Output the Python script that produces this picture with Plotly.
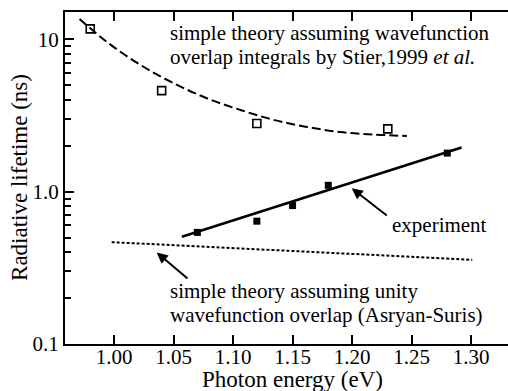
import plotly.graph_objects as go

# Open squares: simple theory with wavefunction overlap integrals (Stier 1999)
stier_x = [0.980, 1.040, 1.120, 1.230]
stier_y = [11.7, 4.6, 2.8, 2.58]
# Dashed guide curve through the Stier points
stier_curve_x = [0.971, 0.994, 1.022, 1.050, 1.078, 1.106, 1.134, 1.162, 1.190, 1.218, 1.246]
stier_curve_y = [13.6, 9.6, 6.8, 5.15, 4.1, 3.44, 2.96, 2.66, 2.46, 2.37, 2.32]
# Filled squares: experiment
exp_x = [1.07, 1.12, 1.15, 1.18, 1.28]
exp_y = [0.54, 0.64, 0.81, 1.10, 1.79]
# Solid fit line through experiment
fit_x = [1.057, 1.292]
fit_y = [0.505, 1.95]
# Dotted: unity overlap theory (Asryan-Suris)
unity_x = [0.998, 1.301]
unity_y = [0.466, 0.357]

x_ticks = [1.00, 1.05, 1.10, 1.15, 1.20, 1.25, 1.30]
x_tick_labels = ["1.00", "1.05", "1.10", "1.15", "1.20", "1.25", "1.30"]
y_ticks = [0.1, 1, 10]
y_tick_labels = ["0.1", "1.0", "10"]
y_minor = [m * d for d in (0.1, 1) for m in range(2, 10)] + [20]

FONT = "'Liberation Serif', 'Times New Roman', 'DejaVu Serif', serif"

fig = go.Figure()
fig.add_trace(go.Scatter(x=stier_curve_x, y=stier_curve_y, mode="lines",
                         line=dict(color="black", width=2, dash="9px,4px", shape="spline"),
                         showlegend=False))
fig.add_trace(go.Scatter(x=stier_x, y=stier_y, mode="markers",
                         marker=dict(symbol="square-open", size=8, color="black",
                                     line=dict(width=1.6, color="black")),
                         showlegend=False))
fig.add_trace(go.Scatter(x=fit_x, y=fit_y, mode="lines",
                         line=dict(color="black", width=2.6), showlegend=False))
fig.add_trace(go.Scatter(x=exp_x, y=exp_y, mode="markers",
                         marker=dict(symbol="square", size=7, color="black"),
                         showlegend=False))
fig.add_trace(go.Scatter(x=unity_x, y=unity_y, mode="lines",
                         line=dict(color="black", width=2, dash="3px,2px"),
                         showlegend=False))

L, R, T, B = 65, 0, 11.7, 46.6
W, H = 508, 391
pw, ph = W - L - R, H - T - B


def px(x):
    return (x - L) / pw


def py(y):
    return (H - B - y) / ph


ann_font = dict(family=FONT, size=21, color="black")
texts = [
    ("simple theory assuming wavefunction", 167.7, 33),
    ("overlap integrals by Stier,1999 <i>et al.</i>", 167.7, 57),
    ("simple theory assuming unity", 168.3, 291.7),
    ("wavefunction overlap (Asryan-Suris)", 168.3, 315),
    ("experiment", 390, 225),
]
for t, x, y in texts:
    fig.add_annotation(text=t, x=px(x), y=py(y), xref="paper", yref="paper",
                       xanchor="left", yanchor="middle", showarrow=False,
                       font=ann_font)

# axis titles
fig.add_annotation(text="Photon energy (eV)", x=px(292), y=py(380), xref="paper",
                   yref="paper", xanchor="center", yanchor="middle", showarrow=False,
                   font=dict(family=FONT, size=23, color="black"))
fig.add_annotation(text="Radiative lifetime (ns)", x=px(20), y=py(178), xref="paper",
                   yref="paper", xanchor="center", yanchor="middle", showarrow=False,
                   textangle=-90, font=dict(family=FONT, size=23, color="black"))

arrows = [((351.7, 188.3), (388.3, 216.7)), ((156.7, 252.7), (189, 280))]
for (hx, hy), (tx, ty) in arrows:
    fig.add_annotation(text="", x=px(hx), y=py(hy), xref="paper", yref="paper",
                       ax=tx - hx, ay=ty - hy, showarrow=True, arrowhead=2,
                       arrowsize=1.1, arrowwidth=2, arrowcolor="black")

fig.update_layout(
    width=W, height=H,
    margin=dict(l=L, r=R, t=T, b=B, pad=0, autoexpand=False),
    plot_bgcolor="white", paper_bgcolor="white",
    font=dict(family=FONT, color="black"),
    xaxis=dict(range=[0.9588, 1.331], tickvals=x_ticks, ticktext=x_tick_labels,
               ticks="inside", ticklen=9, tickwidth=1.8, tickcolor="black",
               showline=True, linewidth=2, linecolor="black", mirror="ticks",
               showgrid=False, zeroline=False, ticklabelstandoff=-7, automargin=False,
               tickfont=dict(family=FONT, size=21)),
    yaxis=dict(type="log", range=[-1, 1.179], tickvals=y_ticks, ticktext=y_tick_labels,
               ticks="inside", ticklen=9, tickwidth=1.8, tickcolor="black",
               minor=dict(tickvals=y_minor, ticks="inside", ticklen=6, tickwidth=1.5,
                          tickcolor="black", showgrid=False),
               showline=True, linewidth=2, linecolor="black", mirror=False,
               showgrid=False, zeroline=False, automargin=False,
               tickfont=dict(family=FONT, size=21)),
)

fig.write_html("out.html", config={"displayModeBar": False},
               post_script="document.body.style.margin='0';document.body.style.overflow='hidden';")
